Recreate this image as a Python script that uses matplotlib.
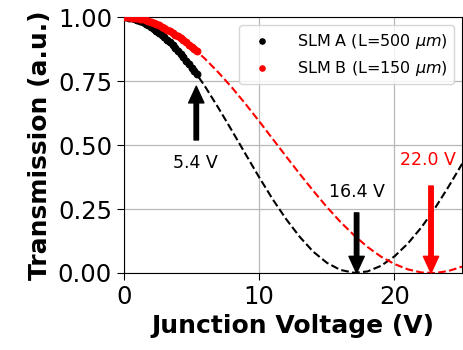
import numpy as np
import matplotlib.pyplot as plt

# measured points (junction voltage in V, normalised transmission)
v_meas = [0.0, 0.2, 0.4, 0.6, 0.8, 1.0, 1.2, 1.4, 1.6, 1.8, 2.0, 2.2, 2.4, 2.6,
          2.8, 3.0, 3.2, 3.4, 3.6, 3.8, 4.0, 4.2, 4.4, 4.6, 4.8, 5.0, 5.2, 5.4]
t_slm_a = [1.000, 0.999, 0.998, 0.996, 0.993, 0.990, 0.986, 0.981, 0.975, 0.969,
           0.962, 0.955, 0.947, 0.940, 0.931, 0.922, 0.912, 0.902, 0.892, 0.880,
           0.868, 0.856, 0.843, 0.830, 0.816, 0.803, 0.789, 0.776]
t_slm_b = [1.000, 1.000, 0.999, 0.998, 0.997, 0.996, 0.994, 0.991, 0.988, 0.985,
           0.981, 0.977, 0.973, 0.968, 0.963, 0.957, 0.951, 0.945, 0.939, 0.932,
           0.925, 0.918, 0.910, 0.902, 0.893, 0.885, 0.876, 0.867]

v_fit = list(range(0, 26))
fit_a = [1.000, 0.992, 0.967, 0.927, 0.872, 0.806, 0.729, 0.644, 0.555, 0.464,
         0.374, 0.288, 0.210, 0.141, 0.083, 0.040, 0.012, 0.001, 0.006, 0.028,
         0.065, 0.116, 0.179, 0.254, 0.338, 0.427]
fit_b = [1.000, 0.995, 0.981, 0.958, 0.925, 0.885, 0.837, 0.783, 0.724, 0.660,
         0.593, 0.524, 0.455, 0.387, 0.321, 0.258, 0.200, 0.148, 0.102, 0.064,
         0.035, 0.014, 0.002, 0.000, 0.008, 0.025]

# arrows: x, tip y, tail y, label, label x, label y, colour
arrow_x = [5.35, 17.2, 22.7]
arrow_tip = [0.73, 0.0, 0.0]
arrow_tail = [0.52, 0.235, 0.34]
arrow_text = ['5.4 V', '16.4 V', '22.0 V']
text_x = [5.3, 17.2, 22.5]
text_y = [0.43, 0.315, 0.44]
arrow_col = ['black', 'black', 'red']

fig, ax = plt.subplots(figsize=(4.64, 3.5), dpi=100)
fig.subplots_adjust(left=0.267, right=0.996, bottom=0.22, top=0.951)

ax.plot(v_fit, fit_a, '--', color='black', lw=1.5, zorder=2)
ax.plot(v_fit, fit_b, '--', color='red', lw=1.5, zorder=2)
ax.scatter(v_meas, t_slm_a, s=22, color='black', zorder=3,
           label=r'SLM A (L=500 $\mu m$)')
ax.scatter(v_meas, t_slm_b, s=22, color='red', zorder=3,
           label=r'SLM B (L=150 $\mu m$)')

for x, tip, tail, txt, tx, ty, c in zip(arrow_x, arrow_tip, arrow_tail, arrow_text,
                                        text_x, text_y, arrow_col):
    ax.annotate('', xy=(x, tip), xytext=(x, tail),
                arrowprops=dict(facecolor=c, edgecolor=c, width=3.2,
                                headwidth=11, headlength=12, shrink=0))
    ax.text(tx, ty, txt, color=c, fontsize=12.5, ha='center', va='center')

ax.set_xlim(0, 25)
ax.set_ylim(0, 1.0)
ax.set_xticks([0, 10, 20])
ax.set_yticks([0, 0.25, 0.5, 0.75, 1.0])
ax.tick_params(labelsize=17.5, length=5)
ax.set_xlabel('Junction Voltage (V)', fontsize=18, fontweight='bold')
ax.set_ylabel('Transmission (a.u.)', fontsize=18, fontweight='bold')
ax.grid(color='#b8b8b8', lw=0.9)
ax.set_axisbelow(True)
ax.legend(loc='upper right', fontsize=11.5, markerscale=0.8, handletextpad=1.2)

fig.savefig('out.png', dpi=100)
